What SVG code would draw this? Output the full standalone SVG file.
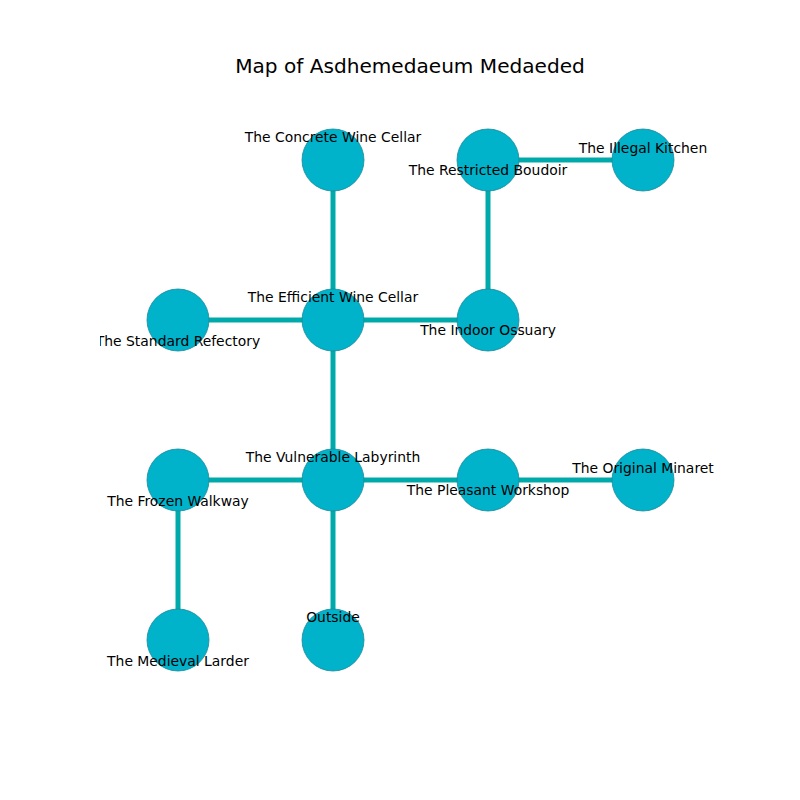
<svg xmlns="http://www.w3.org/2000/svg" width="800" height="800" viewBox="0 0 800 800">
<style>
.e{stroke:#00a9aa;stroke-width:5;fill:none}
.n{fill:#00b2ca;stroke:#1a8a9a;stroke-width:0.8}
.l{font-family:"DejaVu Sans",sans-serif;font-size:13.9px;fill:#000;text-anchor:middle}
.t{font-family:"DejaVu Sans",sans-serif;font-size:20.1px;fill:#000;text-anchor:middle}
</style>
<defs><clipPath id="ax"><rect x="100" y="96" width="620" height="608"/></clipPath></defs>
<rect width="800" height="800" fill="#fff"/>
<text class="t" x="410" y="73">Map of Asdhemedaeum Medaeded</text>
<g id="connectors" clip-path="url(#ax)">
<line class="e" x1="333" y1="160" x2="333" y2="320"/>
<line class="e" x1="488" y1="160" x2="643" y2="160"/>
<line class="e" x1="488" y1="160" x2="488" y2="320"/>
<line class="e" x1="178" y1="320" x2="333" y2="320"/>
<line class="e" x1="333" y1="320" x2="488" y2="320"/>
<line class="e" x1="333" y1="320" x2="333" y2="480"/>
<line class="e" x1="178" y1="480" x2="333" y2="480"/>
<line class="e" x1="333" y1="480" x2="488" y2="480"/>
<line class="e" x1="488" y1="480" x2="643" y2="480"/>
<line class="e" x1="178" y1="480" x2="178" y2="640"/>
<line class="e" x1="333" y1="480" x2="333" y2="640"/>
</g>
<g clip-path="url(#ax)">
<g id="concrete-wine-cellar"><circle class="n" cx="333" cy="160" r="31"/></g>
<g id="restricted-boudoir"><circle class="n" cx="488" cy="160" r="31"/></g>
<g id="illegal-kitchen"><circle class="n" cx="643" cy="160" r="31"/></g>
<g id="standard-refectory"><circle class="n" cx="178" cy="320" r="31"/></g>
<g id="efficient-wine-cellar"><circle class="n" cx="333" cy="320" r="31"/></g>
<g id="indoor-ossuary"><circle class="n" cx="488" cy="320" r="31"/></g>
<g id="frozen-walkway"><circle class="n" cx="178" cy="480" r="31"/></g>
<g id="vulnerable-labyrinth"><circle class="n" cx="333" cy="480" r="31"/></g>
<g id="pleasant-workshop"><circle class="n" cx="488" cy="480" r="31"/></g>
<g id="original-minaret"><circle class="n" cx="643" cy="480" r="31"/></g>
<g id="medieval-larder"><circle class="n" cx="178" cy="640" r="31"/></g>
<g id="outside"><circle class="n" cx="333" cy="640" r="31"/></g>
</g>
<g id="labels" clip-path="url(#ax)">
<text class="l" x="333" y="142">The Concrete Wine Cellar</text>
<text class="l" x="488" y="175">The Restricted Boudoir</text>
<text class="l" x="643" y="153">The Illegal Kitchen</text>
<text class="l" x="333" y="302">The Efficient Wine Cellar</text>
<text class="l" x="178" y="346">The Standard Refectory</text>
<text class="l" x="488" y="335">The Indoor Ossuary</text>
<text class="l" x="333" y="462">The Vulnerable Labyrinth</text>
<text class="l" x="178" y="506">The Frozen Walkway</text>
<text class="l" x="488" y="495">The Pleasant Workshop</text>
<text class="l" x="643" y="473">The Original Minaret</text>
<text class="l" x="333" y="622">Outside</text>
<text class="l" x="178" y="666">The Medieval Larder</text>
</g>
</svg>
